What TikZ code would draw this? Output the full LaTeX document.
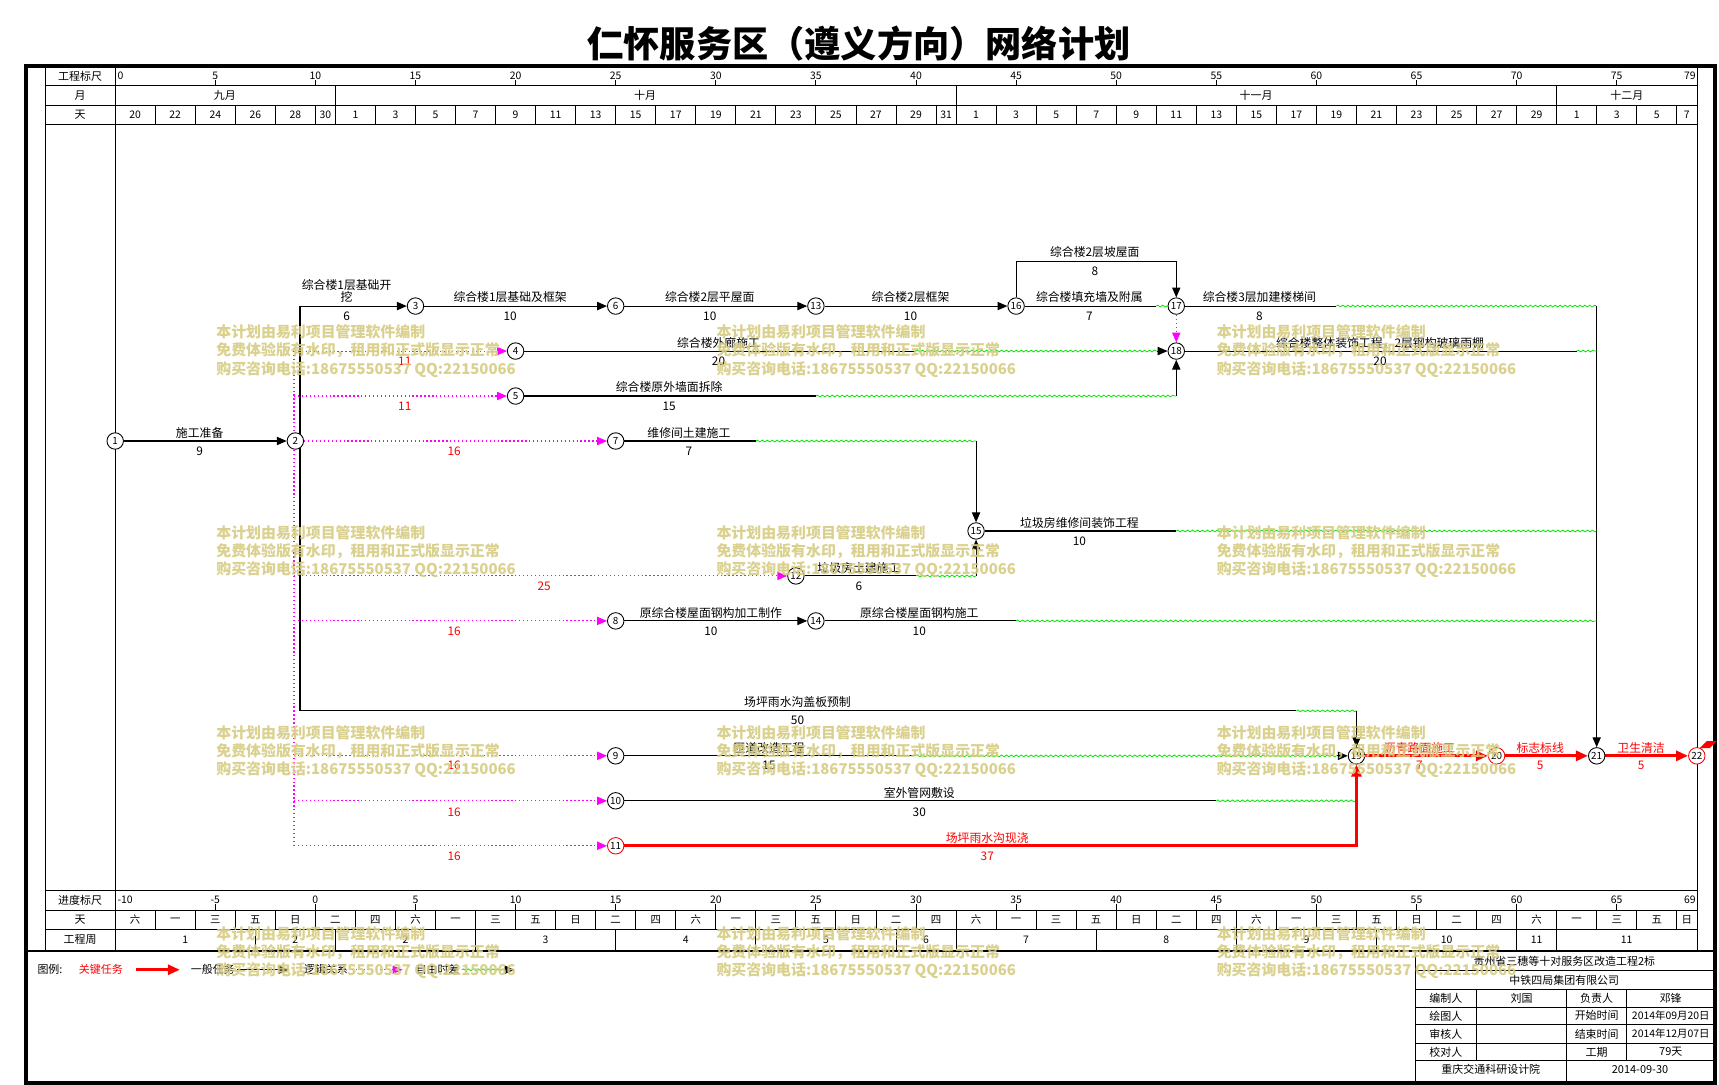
\documentclass[tikz,border=0pt]{standalone}
\usepackage{fontspec}
\setmainfont{Noto Sans CJK SC}
\usetikzlibrary{arrows.meta,decorations.pathmorphing,backgrounds}
\definecolor{wm}{RGB}{214,204,130}
\definecolor{grn}{RGB}{0,230,0}
\definecolor{mag}{RGB}{255,0,255}
\definecolor{crit}{RGB}{255,0,0}
\newcommand\wkd[1]{\ifcase#1 六\or 一\or 三\or 五\or 日\or 二\or 四\fi}
\begin{document}
\begin{tikzpicture}[x=1pt,y=-1pt,
  nd/.style={circle,draw=black,fill=white,line width=0.8pt,inner sep=0pt,minimum size=15pt,font=\fontsize{9}{9}\selectfont},
  ndr/.style={nd,draw=crit},
  lbl/.style={font=\fontsize{10.8}{11}\selectfont,inner sep=0pt},
  lblr/.style={lbl,text=crit},
  hdr/.style={font=\fontsize{10}{10}\selectfont,inner sep=0pt},
  sml/.style={font=\fontsize{9.5}{10}\selectfont,inner sep=0pt},
  wmk/.style={font=\fontsize{13.6}{16.5}\selectfont\bfseries,text=wm,text opacity=0.9,anchor=north west,inner sep=0pt,align=left},
  seg/.style={draw=black,line width=1pt},
  tsk/.style={seg,-{Triangle[length=9pt,width=7.5pt]}},
  crt/.style={draw=crit,line width=3pt},
  crta/.style={crt,-{Triangle[length=11pt,width=9pt]}},
  wav/.style={draw=grn,line width=0.7pt,decorate,decoration={snake,amplitude=0.8pt,segment length=4.5pt}},
  flt/.style={draw=mag,line width=1pt,dash pattern=on 1.2pt off 2.4pt},
  flta/.style={flt,-{Triangle[length=9pt,width=7.5pt]}},
  gln/.style={draw=black,line width=0.8pt},
  frm/.style={draw=black,line width=4pt},
]
\useasboundingbox (0,0) rectangle (1567,989);
% ---------- title
\node[font=\fontsize{33}{33}\selectfont\bfseries,inner sep=0pt] (ttl) at (783,40) {仁怀服务区（遵义方向）网络计划};
% ---------- event nodes
\node[nd] (n1) at (105,402) {1};
\node[nd] (n2) at (269.25,402) {2};
\node[nd] (n3) at (378.75,279) {3};
\node[nd] (n4) at (470,320) {4};
\node[nd] (n5) at (470,361) {5};
\node[nd] (n6) at (561.25,279) {6};
\node[nd] (n7) at (561.25,402) {7};
\node[nd] (n8) at (561.25,566) {8};
\node[nd] (n9) at (561.25,689) {9};
\node[nd] (n10) at (561.25,730) {10};
\node[ndr] (n11) at (561.25,771) {11};
\node[nd] (n12) at (725.5,525) {12};
\node[nd] (n13) at (743.75,279) {13};
\node[nd] (n14) at (743.75,566) {14};
\node[nd] (n15) at (889.75,484) {15};
\node[nd] (n16) at (926.25,279) {16};
\node[nd] (n17) at (1072.25,279) {17};
\node[nd] (n18) at (1072.25,320) {18};
\node[nd] (n19) at (1236.5,689) {19};
\node[ndr] (n20) at (1364.25,689) {20};
\node[nd] (n21) at (1455.5,689) {21};
\node[ndr] (n22) at (1546.75,689) {22};
% ---------- helper coordinates
\coordinate (v2t) at (273.5,279);
\coordinate (v2b) at (273.5,648);
\coordinate (m2t) at (268,320);
\coordinate (m2b) at (268,771);
\coordinate (m5) at (268,361);
\coordinate (m12) at (268,525);
\coordinate (m8) at (268,566);
\coordinate (m9) at (268,689);
\coordinate (m10) at (268,730);
\coordinate (k16) at (926.25,238);
\coordinate (k17) at (1072.25,238);
\coordinate (w16) at (1054,279);
\coordinate (w17) at (1218.25,279);
\coordinate (w18) at (1437.25,320);
\coordinate (w4) at (835,320);
\coordinate (a18) at (1055,320);
\coordinate (w5) at (743.75,361);
\coordinate (k18b) at (1072.25,361);
\coordinate (w7) at (689,402);
\coordinate (k15t) at (889.75,402);
\coordinate (w12) at (835,525);
\coordinate (k15b) at (889.75,525);
\coordinate (w15) at (1072.25,484);
\coordinate (w14) at (926.25,566);
\coordinate (w2b) at (1181.75,648);
\coordinate (k19t) at (1236.5,648);
\coordinate (w9) at (835,689);
\coordinate (a19) at (1219,689);
\coordinate (w10) at (1108.75,730);
\coordinate (k19r) at (1236.5,730);
\coordinate (k19b) at (1236.5,771);
\coordinate (r1) at (1455.5,279);
\coordinate (r2) at (1455.5,320);
\coordinate (r3) at (1455.5,484);
\coordinate (r4) at (1455.5,566);
% legend coordinates
\coordinate (lga) at (124,884);
\coordinate (lgb) at (164,884);
\coordinate (lgc) at (216,884);
\coordinate (lgd) at (263,884);
\coordinate (lge) at (321,884);
\coordinate (lgf) at (367,884);
\coordinate (lgg) at (421,884);
\coordinate (lgh) at (459,884);
\coordinate (lgi) at (469,884);

\begin{pgfonlayer}{background}
\fill[white] (0,0) rectangle (1567,989);
% ---------- frame and grid
\draw[frm] (23.5,60) rectangle (1563.5,987);
\draw[black,line width=2.5pt] (23.5,867) -- (1563.5,867);
\foreach \yy in {78,96,113,812,830,847} \draw[gln] (41,\yy) -- (1547,\yy);
\foreach \xx in {41,105,1547} \draw[gln] (\xx,62) -- (\xx,866);
% month boundaries
\foreach \t in {11,42,72} \draw[gln] ({105+18.25*\t},78) -- ({105+18.25*\t},96);
% date cells
\foreach \t in {2,4,6,8,10,11,13,...,41,42,44,...,72,74,76,78} \draw[gln] ({105+18.25*\t},96) -- ({105+18.25*\t},113);
% ruler ticks
\foreach \v in {5,10,...,75} {
  \draw[gln] ({105+18.25*\v},73) -- ({105+18.25*\v},78);
  \draw[gln] ({105+18.25*\v},824) -- ({105+18.25*\v},830);
}
% weekday cells
\foreach \t in {2,4,...,78} \draw[gln] ({105+18.25*\t},830) -- ({105+18.25*\t},847);
% week cells
\foreach \t in {7,11,18,25,32,39,42,49,56,63,70,72} \draw[gln] ({105+18.25*\t},847) -- ({105+18.25*\t},866);
% title block
\draw[gln] (1290,868) -- (1290,985);
\foreach \yy in {885,902,918,934,951,967} \draw[gln] (1290,\yy) -- (1563,\yy);
\draw[gln] (1346,902) -- (1346,967);
\draw[gln] (1428,902) -- (1428,985);
\draw[gln] (1483,902) -- (1483,967);

% ---------- connectors
\draw[tsk] (n1) -- (n2);
\draw[seg] (v2t) -- (v2b);
\draw[tsk] (v2t) -- (n3);
\draw[tsk] (n3) -- (n6);
\draw[tsk] (n6) -- (n13);
\draw[tsk] (n13) -- (n16);
\draw[seg] (n16) -- (w16);
\draw[wav] (w16) -- (n17.west);
\draw[tsk] (n16) -- (k16) -- (k17) -- (n17);
\draw[seg] (n17) -- (w17);
\draw[wav] (w17) -- (r1);
\draw[tsk] (r1) -- (n21);
\draw[seg] (n18) -- (w18);
\draw[wav] (w18) -- (r2);
\draw[seg] (n4) -- (w4);
\draw[wav] (w4) -- (a18);
\draw[tsk] (a18) -- (n18);
\draw[seg] (n5) -- (w5);
\draw[wav] (w5) -- (k18b);
\draw[tsk] (k18b) -- (n18);
\draw[seg] (n7) -- (w7);
\draw[wav] (w7) -- (k15t);
\draw[tsk] (k15t) -- (n15);
\draw[seg] (n12) -- (w12);
\draw[wav] (w12) -- (k15b);
\draw[tsk] (k15b) -- (n15);
\draw[seg] (n15) -- (w15);
\draw[wav] (w15) -- (r3);
\draw[tsk] (n8) -- (n14);
\draw[seg] (n14) -- (w14);
\draw[wav] (w14) -- (r4);
\draw[seg] (v2b) -- (w2b);
\draw[wav] (w2b) -- (k19t);
\draw[tsk] (k19t) -- (n19);
\draw[seg] (n9) -- (w9);
\draw[wav] (w9) -- (a19);
\draw[tsk] (a19) -- (n19);
\draw[seg] (n10) -- (w10);
\draw[wav] (w10) -- (k19r);
\draw[crta] (n11) -- (k19b) -- (n19);
\draw[crta] (n19) -- (n20);
\draw[crta] (n20) -- (n21);
\draw[crta] (n21) -- (n22);
% free float (magenta dotted)
\draw[flt] (m2t) -- (m2b);
\draw[flta] (m2t) -- (n4);
\draw[flta] (m5) -- (n5);
\draw[flta] (n2) -- (n7);
\draw[flta] (m12) -- (n12);
\draw[flta] (m8) -- (n8);
\draw[flta] (m9) -- (n9);
\draw[flta] (m10) -- (n10);
\draw[flta] (m2b) -- (n11);
\draw[flta] (n17) -- (n18);
% end flag
\fill[crit] (1549.5,682) -- (1556,675.5) -- (1565,675.5) -- (1558.5,682) -- cycle;
% legend arrows
\draw[crta] (lga) -- (lgb);
\draw[tsk] (lgc) -- (lgd);
\draw[flta] (lge) -- (lgf);
\draw[wav] (lgg) -- (lgh);
\draw[tsk] (lgh) -- (lgi);
\end{pgfonlayer}

% ---------- header texts
\node[hdr] at (73,70) {工程标尺};
\node[hdr] at (73,87) {月};
\node[hdr] at (73,104.5) {天};
\node[hdr] at (73,821) {进度标尺};
\node[hdr] at (73,838.5) {天};
\node[hdr] at (73,856.5) {工程周};
\node[sml,anchor=west] at (107,69.5) {0};
\node[sml,anchor=east] at (1546,69.5) {79};
\foreach \v in {5,10,...,75} \node[sml] at ({105+18.25*\v},69.5) {\v};
\node[sml,anchor=west] at (107,820.5) {-10};
\node[sml,anchor=east] at (1546,820.5) {69};
\foreach \v in {5,10,...,75} {
  \pgfmathtruncatemacro\w{\v-10}
  \node[sml] at ({105+18.25*\v},820.5) {\w};
}
\node[hdr] at (205,87) {九月};
\node[hdr] at (588,87) {十月};
\node[hdr] at (1145,87) {十一月};
\node[hdr] at (1483,87) {十二月};
\foreach \t/\dd in {0/20,2/22,4/24,6/26,8/28} \node[sml] at ({105+18.25*(\t+1)},104.5) {\dd};
\node[sml] at ({105+18.25*10.5},104.5) {30};
\foreach \k in {0,...,14} {
  \pgfmathtruncatemacro\dd{1+2*\k}
  \node[sml] at ({105+18.25*(12+2*\k)},104.5) {\dd};
  \node[sml] at ({105+18.25*(43+2*\k)},104.5) {\dd};
}
\node[sml] at ({105+18.25*41.5},104.5) {31};
\foreach \t/\dd in {73/1,75/3,77/5,78.5/7} \node[sml] at ({105+18.25*\t},104.5) {\dd};
\foreach \k in {0,...,38} {
  \pgfmathtruncatemacro\m{mod(\k,7)}
  \node[sml] at ({105+18.25*(2*\k+1)},838.5) {\wkd{\m}};
}
\node[sml] at ({105+18.25*78.5},838.5) {日};
\foreach \t/\dd in {3.5/1,9/2,14.5/2,21.5/3,28.5/4,35.5/5,40.5/6,45.5/7,52.5/8,59.5/9,66.5/10,71/11,75.5/11} \node[sml] at ({105+18.25*\t},856.5) {\dd};

% ---------- task labels
\node[lbl] at (182,395) {施工准备};
\node[lbl] at (182,411) {9};
\node[lbl,align=center,font=\fontsize{10.8}{11}\selectfont] at (316,265.5) {综合楼1层基础开\\挖};
\node[lbl] at (316,288) {6};
\node[lbl] at (465,271) {综合楼1层基础及框架};
\node[lbl] at (465,288) {10};
\node[lbl] at (647,271) {综合楼2层平屋面};
\node[lbl] at (647,288) {10};
\node[lbl] at (830,271) {综合楼2层框架};
\node[lbl] at (830,288) {10};
\node[lbl] at (993,271) {综合楼填充墙及附属};
\node[lbl] at (993,288) {7};
\node[lbl] at (998,230) {综合楼2层坡屋面};
\node[lbl] at (998,247) {8};
\node[lbl] at (1148,271) {综合楼3层加建楼梯间};
\node[lbl] at (1148,288) {8};
\node[lbl] at (655,313) {综合楼外廊施工};
\node[lbl] at (655,329) {20};
\node[lbl] at (1258,313) {综合楼整体装饰工程，2层钢构玻璃雨棚};
\node[lbl] at (1258,329) {20};
\node[lbl] at (610,353) {综合楼原外墙面拆除};
\node[lbl] at (610,370) {15};
\node[lbl] at (628,395) {维修间土建施工};
\node[lbl] at (628,411) {7};
\node[lbl] at (984,477) {垃圾房维修间装饰工程};
\node[lbl] at (984,493) {10};
\node[lbl] at (783,518) {垃圾房土建施工};
\node[lbl] at (783,534) {6};
\node[lbl] at (648,559) {原综合楼屋面钢构加工制作};
\node[lbl] at (648,575) {10};
\node[lbl] at (838,559) {原综合楼屋面钢构施工};
\node[lbl] at (838,575) {10};
\node[lbl] at (727,640) {场坪雨水沟盖板预制};
\node[lbl] at (727,657) {50};
\node[lbl] at (701,682) {匝道改造工程};
\node[lbl] at (701,698) {15};
\node[lbl] at (838,723) {室外管网敷设};
\node[lbl] at (838,740) {30};
\node[lblr] at (900,764) {场坪雨水沟现浇};
\node[lblr] at (900,781) {37};
\node[lblr] at (1294,682) {沥青路面施工};
\node[lblr] at (1294,698) {7};
\node[lblr] at (1404,682) {标志标线};
\node[lblr] at (1404,698) {5};
\node[lblr] at (1496,682) {卫生清洁};
\node[lblr] at (1496,698) {5};
\node[lblr] at (369,329) {11};
\node[lblr] at (369,370) {11};
\node[lblr] at (414,411) {16};
\node[lblr] at (496,534) {25};
\node[lblr] at (414,575) {16};
\node[lblr] at (414,698) {16};
\node[lblr] at (414,740) {16};
\node[lblr] at (414,781) {16};

% ---------- legend texts
\node[hdr,anchor=west] at (34,884) {图例:};
\node[hdr,text=crit] at (92,884) {关键任务};
\node[hdr] at (194,884) {一般任务};
\node[hdr] at (297,884) {逻辑关系};
\node[hdr] at (399,884) {自由时差};

% ---------- title block texts
\node[hdr] at (1426,876.5) {贵州省三穗等十对服务区改造工程2标};
\node[hdr] at (1426,893.5) {中铁四局集团有限公司};
\node[hdr] at (1318,910) {编制人};
\node[hdr] at (1387,910) {刘国};
\node[hdr] at (1455.5,910) {负责人};
\node[hdr] at (1523,910) {邓锋};
\node[hdr] at (1318,926) {绘图人};
\node[hdr] at (1455.5,926) {开始时间};
\node[sml] at (1523,926) {2014年09月20日};
\node[hdr] at (1318,942.5) {审核人};
\node[hdr] at (1455.5,942.5) {结束时间};
\node[sml] at (1523,942.5) {2014年12月07日};
\node[hdr] at (1318,959) {校对人};
\node[hdr] at (1455.5,959) {工期};
\node[hdr] at (1523,959) {79天};
\node[hdr] at (1359,975) {重庆交通科研设计院};
\node[hdr] at (1495,975) {2014-09-30};

% ---------- watermark
\foreach \wx in {197,653,1109} \foreach \wy in {296,479,661,844}
  \node[wmk] at (\wx,\wy) {本计划由易利项目管理软件编制\\免费体验版有水印，租用和正式版显示正常\\购买咨询电话:18675550537 QQ:22150066};
\end{tikzpicture}
\end{document}
